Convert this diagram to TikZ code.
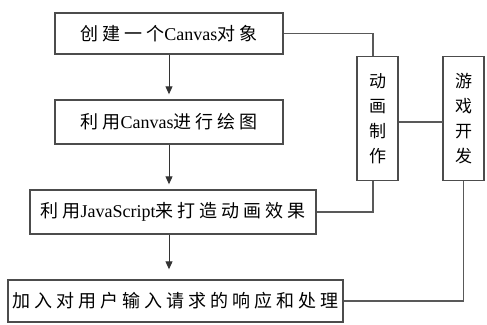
\documentclass[tikz,border=0pt]{standalone}
\usepackage{fontspec}
\setmainfont{Liberation Serif}
\newfontfamily\cjk[LetterSpace=22]{Noto Sans CJK SC}
\newfontfamily\cjkv{Noto Sans CJK SC}
\usetikzlibrary{arrows.meta}
\newcommand{\zh}[1]{{\cjk #1}}
\begin{document}
\begin{tikzpicture}[x=1pt,y=-1pt,
  box/.style={draw=black!70,line width=1.4pt,rectangle,inner sep=0pt,fill=white,font=\fontsize{18}{20}\selectfont},
  vbox/.style={draw=black!70,line width=1.4pt,rectangle,inner sep=0pt,minimum width=41pt,minimum height=124pt,align=center,font=\fontsize{17}{25}\selectfont\cjkv},
  conn/.style={draw=black!65,line width=1.4pt},
  arr/.style={draw=black!80,line width=1pt,-{Triangle[length=8pt,width=7pt]},shorten >=5pt}]
\useasboundingbox (0,0) rectangle (487,324);
\node[box,minimum width=228pt,minimum height=41pt] (b1) at (169,33.5) {\zh{创建一个}Canvas\zh{对象}};
\node[box,minimum width=228pt,minimum height=44pt] (b2) at (169,122) {\zh{利用}Canvas\zh{进行绘图}};
\node[box,minimum width=286pt,minimum height=44pt] (b3) at (173,212) {\zh{利用}JavaScript\zh{来打造动画效果}};
\node[box,minimum width=335pt,minimum height=42pt] (b4) at (175.5,301) {\zh{加入对用户输入请求的响应和处理}};
\node[vbox] (anim) at (377.5,118.5) {动\\画\\制\\作};
\node[vbox] (game) at (463.5,118.5) {游\\戏\\开\\发};
\coordinate (a1) at (373,33.5);
\coordinate (g1) at (443,122);
\draw[conn] (b1.east) -- (a1) -- (a1 |- anim.north);
\draw[conn] (a1 |- anim.south) |- (b3.east);
\draw[conn] (anim.east |- g1) -- (g1);
\draw[conn] (game.south) |- (b4.east);
\draw[arr] (b1.south) -- (b2.north);
\draw[arr] (b2.south) -- (b3.north -| b2.south);
\draw[arr,shorten >=10pt] (b3.south -| b2.south) -- (b4.north -| b2.south);
\end{tikzpicture}
\end{document}
